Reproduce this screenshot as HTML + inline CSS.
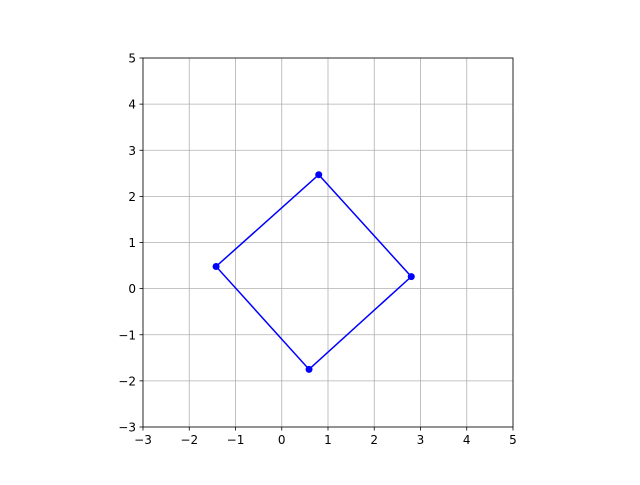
<!DOCTYPE html>
<html><head><meta charset="utf-8"><style>
body{margin:0;background:#fff;}
svg text{font-family:"DejaVu Sans","Liberation Sans",sans-serif;font-size:12px;fill:#000;}
</style></head><body>
<svg id="chart" width="640" height="480"></svg>
<script>
const xs = [0.80, 2.80, 0.59, -1.42];
const ys = [2.47, 0.26, -1.75, 0.48];
const xTicks = [-3,-2,-1,0,1,2,3,4,5];
const yTicks = [-3,-2,-1,0,1,2,3,4,5];
const X0=143,X1=513,Y0=427,Y1=58;
const sx=v=>X0+(v+3)/8*(X1-X0);
const sy=v=>Y0-(v+3)/8*(Y0-Y1);
const svg=document.getElementById('chart');
const NS='http://www.w3.org/2000/svg';
function mk(t,a){const e=document.createElementNS(NS,t);for(const k in a)e.setAttribute(k,a[k]);svg.appendChild(e);return e;}
xTicks.forEach(v=>{
 const g=mk('line',{x1:sx(v),x2:sx(v),y1:Y1,y2:Y0,stroke:'#b0b0b0','stroke-width':0.8});
 
 
 mk('line',{x1:sx(v),x2:sx(v),y1:Y0,y2:Y0+3.5,stroke:'#000','stroke-width':0.8});
 const t=mk('text',{x:sx(v),y:Y0+17,'text-anchor':'middle'});
 t.textContent=v<0?'\u2212'+(-v):v;
 
 
});
yTicks.forEach(v=>{
 const g=mk('line',{x1:X0,x2:X1,y1:sy(v),y2:sy(v),stroke:'#b0b0b0','stroke-width':0.8});
 
 
 mk('line',{x1:X0-3.5,x2:X0,y1:sy(v),y2:sy(v),stroke:'#000','stroke-width':0.8});
 const t=mk('text',{x:X0-7,y:sy(v)+4.5,'text-anchor':'end'});
 t.textContent=v<0?'\u2212'+(-v):v;
 
 
});
const pts=xs.map((x,i)=>sx(x)+','+sy(ys[i]));
pts.push(pts[0]);
const pl=mk('polyline',{points:pts.join(' '),fill:'none',stroke:'#0000ff','stroke-width':1.5});


xs.forEach((x,i)=>{
 const c=mk('circle',{cx:sx(x),cy:sy(ys[i]),r:3.5,fill:'#0000ff'});
 
 
});
const fr=mk('rect',{x:X0,y:Y1,width:X1-X0,height:Y0-Y1,fill:'none',stroke:'#000','stroke-width':0.8});


</script>
</body></html>
